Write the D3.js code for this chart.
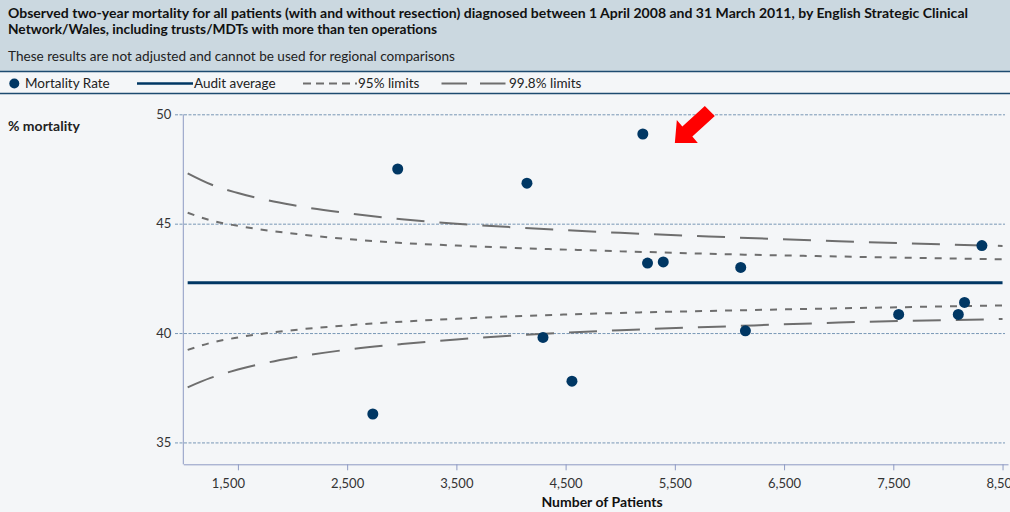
<!DOCTYPE html>
<html>
<head>
<meta charset="utf-8">
<script src="https://cdn.jsdelivr.net/npm/d3@7"></script>
<style>
  html, body { margin: 0; padding: 0; background: #f4f6f8; }
  svg { display: block; font-family: Lato, "Open Sans", sans-serif; }
</style>
</head>
<body>
<svg id="chart" width="1010" height="512"></svg>
<script>
// ---------- data ----------
const titleLines = [
  "Observed two-year mortality for all patients (with and without resection) diagnosed between 1 April 2008 and 31 March 2011, by English Strategic Clinical",
  "Network/Wales, including trusts/MDTs with more than ten operations"
];
const subtitle = "These results are not adjusted and cannot be used for regional comparisons";
const legendLabels = ["Mortality Rate", "Audit average", "95% limits", "99.8% limits"];
const yTitle = "% mortality";
const xTitle = "Number of Patients";

const patients  = [2735, 2963, 4146, 4293, 4558, 5207, 5250, 5394, 6103, 6146, 7549, 8095, 8152, 8311];
const mortality = [36.3, 47.5, 46.85, 39.8, 37.8, 49.1, 43.2, 43.25, 43.0, 40.1, 40.85, 40.85, 41.4, 44.0];

const auditAverage = 42.3;
const limitN    = [1040, 1250, 1500, 2000, 2500, 3000, 3500, 4000, 5000, 6000, 7000, 8500];
const upper95   = [45.5, 45.15, 44.9, 44.55, 44.3, 44.12, 44.0, 43.9, 43.74, 43.6, 43.5, 43.37];
const lower95   = [39.23, 39.55, 39.8, 40.13, 40.35, 40.52, 40.65, 40.76, 40.92, 41.03, 41.13, 41.26];
const upper998  = [47.3, 46.8, 46.4, 45.85, 45.48, 45.2, 45.0, 44.84, 44.58, 44.38, 44.2, 43.98];
const lower998  = [37.52, 37.95, 38.33, 38.87, 39.24, 39.5, 39.71, 39.88, 40.13, 40.31, 40.48, 40.64];

const xTicks = [1500, 2500, 3500, 4500, 5500, 6500, 7500, 8500];
const yTicks = [35, 40, 45, 50];
const highlightIndex = 5; // point marked by the red arrow

// ---------- styles ----------
const navy = "#003764";
const limitGrey = "#6e6e6e";

const svg = d3.select("#chart");
const W = 1010, H = 512;

svg.append("rect").attr("width", W).attr("height", H).attr("fill", "#f4f6f8");
svg.append("rect").attr("width", W).attr("height", 71).attr("fill", "#cbd8e0");
svg.append("line").attr("x1", 0).attr("x2", W).attr("y1", 71.5).attr("y2", 71.5)
  .attr("stroke", "#1d4b70").attr("stroke-width", 1.5);
svg.append("line").attr("x1", 0).attr("x2", W).attr("y1", 93.5).attr("y2", 93.5)
  .attr("stroke", "#1d4b70").attr("stroke-width", 1.5);

// fit a text to a target width (small adjustments only)
function fitWidth(sel, target) {
  sel.each(function () {
    const len = this.getComputedTextLength();
    if (len > 0 && Math.abs(len - target) / target < 0.08) {
      d3.select(this).attr("textLength", target).attr("lengthAdjust", "spacingAndGlyphs");
    }
  });
}

// titles
const titleWidths = [960, 429];
svg.selectAll("text.title").data(titleLines).enter().append("text")
  .attr("class", "title")
  .attr("x", 8).attr("y", (d, i) => 18 + i * 16)
  .attr("font-size", 13.7).attr("font-weight", 700).attr("fill", "#111")
  .text(d => d)
  .each(function (d, i) { fitWidth(d3.select(this), titleWidths[i]); });
svg.append("text").attr("x", 8).attr("y", 61)
  .attr("font-size", 13.5).attr("fill", "#222").text(subtitle)
  .call(s => fitWidth(s, 447));

// ---------- scales ----------
const x = d3.scaleLinear().domain([1000, 8550]).range([183.3, 1008]);
const y = d3.scaleLinear().domain([34, 50]).range([464.3, 114.3]);

// gridlines
svg.append("g").selectAll("line").data(yTicks).enter().append("line")
  .attr("x1", 175).attr("x2", 1005)
  .attr("y1", d => y(d) + 0.5).attr("y2", d => y(d) + 0.5)
  .attr("stroke", "#7898b6").attr("stroke-width", 1).attr("stroke-dasharray", "3,1.5");

// y axis
const yAxis = svg.append("g").attr("transform", `translate(${x(1000)},0)`)
  .call(d3.axisLeft(y).tickValues(yTicks).tickSize(0).tickPadding(12).tickFormat(d3.format("d")));
yAxis.select(".domain").attr("stroke", "#8e9bc4").attr("d", `M0,${y(50)}V${y(34)}`);
yAxis.selectAll("text").attr("font-size", 13).attr("fill", "#333").attr("font-family", "Lato, sans-serif");

// x axis
const xAxis = svg.append("g").attr("transform", `translate(0,${y(34)})`)
  .call(d3.axisBottom(x).tickValues(xTicks).tickSize(6).tickPadding(8).tickSizeOuter(0).tickFormat(d3.format(",")));
xAxis.select(".domain").attr("stroke", "#8e9bc4");
xAxis.selectAll(".tick line").attr("stroke", "#8e9bc4");
xAxis.selectAll("text").attr("font-size", 13).attr("fill", "#333").attr("font-family", "Lato, sans-serif")
  .attr("dx", (d, i) => i === 0 ? -10 : 0);

// axis titles
svg.append("text").attr("x", 8).attr("y", 131).attr("font-size", 14).attr("font-weight", 700)
  .attr("fill", "#222").text(yTitle);
svg.append("text").attr("x", 602).attr("y", 507).attr("text-anchor", "middle")
  .attr("font-size", 14).attr("font-weight", 700).attr("fill", "#111").text(xTitle);

// ---------- limit lines ----------
const lineGen = d3.line().x(d => x(d[0])).y(d => y(d[1])).curve(d3.curveMonotoneX);
const limits = [
  { vals: upper998, dash: "28,15" },
  { vals: lower998, dash: "28,15" },
  { vals: upper95, dash: "7,8" },
  { vals: lower95, dash: "7,8" }
];
svg.append("g").selectAll("path").data(limits).enter().append("path")
  .attr("d", d => lineGen(limitN.map((n, i) => [n, d.vals[i]])))
  .attr("fill", "none").attr("stroke", limitGrey).attr("stroke-width", 2)
  .attr("stroke-dasharray", d => d.dash);

// audit average
svg.append("line")
  .attr("x1", x(limitN[0])).attr("x2", x(limitN[limitN.length - 1]))
  .attr("y1", y(auditAverage)).attr("y2", y(auditAverage))
  .attr("stroke", navy).attr("stroke-width", 2.8);

// points
svg.append("g").selectAll("circle").data(patients).enter().append("circle")
  .attr("cx", (d, i) => x(d)).attr("cy", (d, i) => y(mortality[i]))
  .attr("r", 5.5).attr("fill", navy);

// red arrow pointing at highlighted point
const tipX = x(patients[highlightIndex]) + 32, tipY = y(mortality[highlightIndex]) + 9;
const arrowPts = [[0,0],[2,-23],[7.5,-16.5],[30,-37],[40,-27],[17.5,-6.5],[23,0]];
svg.append("path")
  .attr("d", "M" + arrowPts.map(p => [tipX + p[0], tipY + p[1]].join(",")).join("L") + "Z")
  .attr("fill", "#ff0000");

// ---------- legend ----------
const lg = svg.append("g").attr("font-size", 13.5).attr("fill", "#222");
lg.append("circle").attr("cx", 14.3).attr("cy", 83.5).attr("r", 5).attr("fill", navy);
lg.append("text").attr("x", 25).attr("y", 88).text(legendLabels[0]);
lg.append("line").attr("x1", 137).attr("x2", 193).attr("y1", 83.5).attr("y2", 83.5)
  .attr("stroke", navy).attr("stroke-width", 2.5);
lg.append("text").attr("x", 194).attr("y", 88).text(legendLabels[1]);
lg.append("line").attr("x1", 303).attr("x2", 357).attr("y1", 83.5).attr("y2", 83.5)
  .attr("stroke", limitGrey).attr("stroke-width", 2).attr("stroke-dasharray", "8,5");
lg.append("text").attr("x", 358).attr("y", 88).text(legendLabels[2]);
lg.append("line").attr("x1", 441.5).attr("x2", 508).attr("y1", 83.5).attr("y2", 83.5)
  .attr("stroke", limitGrey).attr("stroke-width", 2).attr("stroke-dasharray", "25.5,13");
lg.append("text").attr("x", 509).attr("y", 88).text(legendLabels[3]);
</script>
</body>
</html>
